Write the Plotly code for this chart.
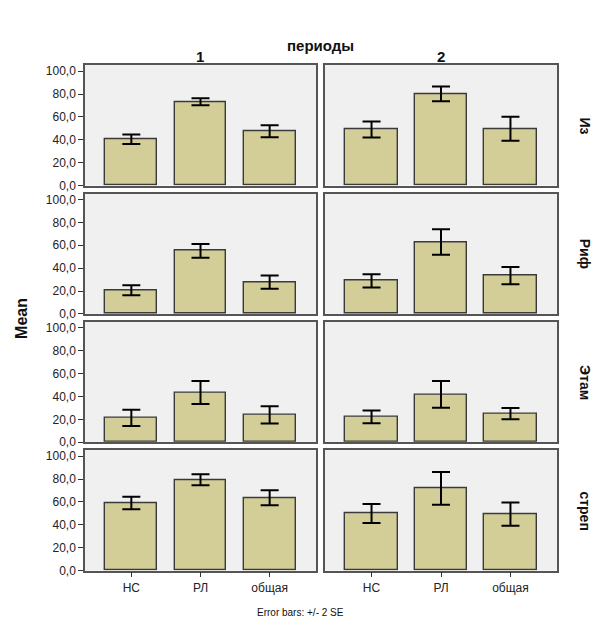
import plotly.graph_objects as go

categories = ["НС", "РЛ", "общая"]
periods = ["1", "2"]
rows_labels = ["Из", "Риф", "Этам", "стреп"]

means_iz_1 = [40.5, 73.2, 47.5]
err_iz_1 = [4.1, 3.0, 5.3]
means_iz_2 = [49.0, 80.1, 49.6]
err_iz_2 = [6.9, 6.5, 10.5]

means_rif_1 = [20.7, 55.0, 27.7]
err_rif_1 = [4.3, 6.0, 5.8]
means_rif_2 = [28.8, 62.8, 33.4]
err_rif_2 = [5.8, 11.1, 7.5]

means_etam_1 = [21.3, 43.5, 23.9]
err_etam_1 = [7.1, 10.0, 7.6]
means_etam_2 = [22.2, 41.8, 25.1]
err_etam_2 = [5.6, 11.7, 4.9]

means_strep_1 = [59.1, 79.3, 63.7]
err_strep_1 = [5.5, 4.8, 6.6]
means_strep_2 = [49.9, 71.8, 49.3]
err_strep_2 = [8.2, 14.3, 10.2]

y_ticks = [0, 20, 40, 60, 80, 100]

grid = [
    [(means_iz_1, err_iz_1), (means_iz_2, err_iz_2)],
    [(means_rif_1, err_rif_1), (means_rif_2, err_rif_2)],
    [(means_etam_1, err_etam_1), (means_etam_2, err_etam_2)],
    [(means_strep_1, err_strep_1), (means_strep_2, err_strep_2)],
]

W, H = 595, 625
col_px = [(85, 316), (325, 557)]
row_px = [(65, 187), (195, 317), (325, 447), (455, 577)]

FONT = "Arial, Liberation Sans, sans-serif"
BAR_COLOR = "#d3ce97"
BG = "#f0f0f0"
BORDER = "#555555"

fig = go.Figure()
layout = {}
idx = 0
for r in range(4):
    for c in range(2):
        idx += 1
        m, e = grid[r][c]
        xa = "x" if idx == 1 else f"x{idx}"
        ya = "y" if idx == 1 else f"y{idx}"
        fig.add_trace(go.Bar(
            x=list(range(len(categories))), y=m,
            xaxis=xa, yaxis=ya,
            width=0.75,
            marker=dict(color=BAR_COLOR, line=dict(color="#3a3a3a", width=1.4)),
            error_y=dict(type="data", array=e, visible=True, color="#000000",
                         thickness=2, width=9),
            showlegend=False, hoverinfo="skip",
        ))
        x0, x1 = col_px[c]
        y0, y1 = row_px[r]
        xkey = "xaxis" if idx == 1 else f"xaxis{idx}"
        ykey = "yaxis" if idx == 1 else f"yaxis{idx}"
        last_row = (r == 3)
        layout[xkey] = dict(
            domain=[x0 / W, x1 / W], anchor=ya,
            range=[-0.67, 2.67],
            tickmode="array", tickvals=list(range(len(categories))),
            ticktext=categories if last_row else [""] * 3,
            showticklabels=last_row,
            ticks="outside" if last_row else "", ticklen=5, tickcolor="#333",
            showline=True, linecolor=BORDER, linewidth=1.5, mirror=True,
            showgrid=False, zeroline=False,
            tickfont=dict(family=FONT, size=12, color="#222"),
            fixedrange=True,
        )
        layout[ykey] = dict(
            domain=[1 - y1 / H, 1 - y0 / H], anchor=xa,
            range=[0, 105.2],
            tickmode="array", tickvals=y_ticks,
            tickformat=".1f",
            showticklabels=(c == 0),
            ticks="outside" if c == 0 else "", ticklen=5, tickcolor="#333",
            showline=True, linecolor=BORDER, linewidth=1.5, mirror=True,
            showgrid=False, zeroline=False,
            tickfont=dict(family=FONT, size=12, color="#222"),
            fixedrange=True,
        )

def ann(text, x, y, size, angle=0):
    return dict(text=text, x=x / W, y=1 - y / H, xref="paper", yref="paper",
                xanchor="center", yanchor="middle", showarrow=False,
                textangle=angle, font=dict(family=FONT, size=size, color="#111"))

annotations = [
    ann("<b>периоды</b>", 320, 45, 15),
    ann("<b>1</b>", 200, 56, 15),
    ann("<b>2</b>", 441, 56, 15),
    ann("<b>Mean</b>", 22, 322, 16, -90),
    ann("Error bars: +/- 2 SE", 300, 619, 10),
]
for r in range(4):
    y0, y1 = row_px[r]
    annotations.append(ann(f"<b>{rows_labels[r]}</b>", 585, (y0 + y1) / 2, 14, 90))

fig.update_layout(
    width=W, height=H,
    margin=dict(l=0, r=0, t=0, b=0),
    paper_bgcolor="white",
    plot_bgcolor=BG,
    separators=", ",
    annotations=annotations,
    bargap=0,
    **layout,
)

fig.write_html("out.html")
